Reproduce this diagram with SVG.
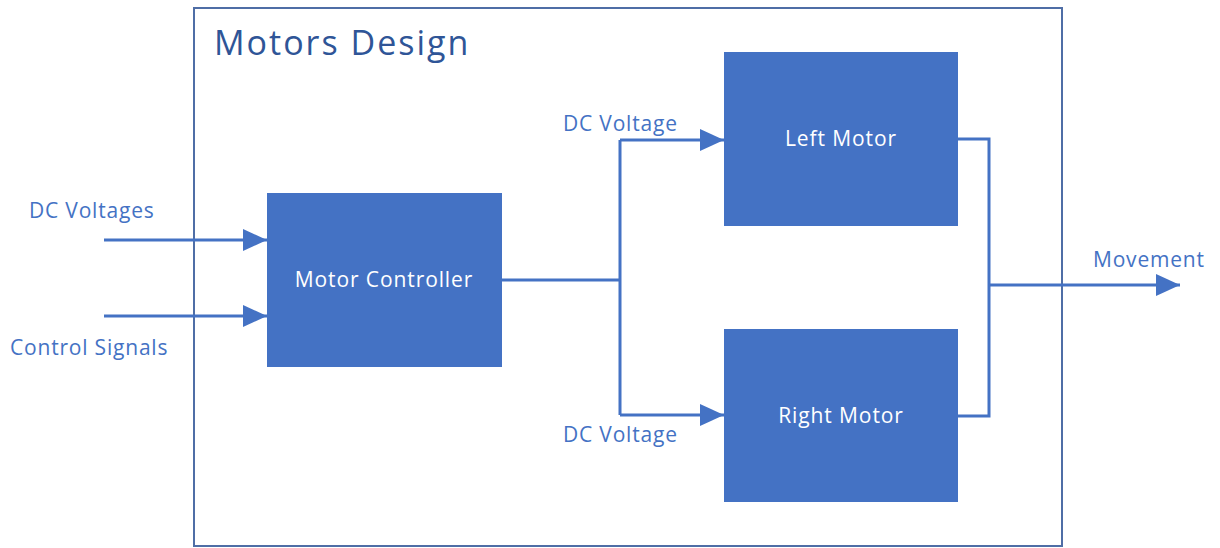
<svg xmlns="http://www.w3.org/2000/svg" width="1220" height="548" viewBox="0 0 1220 548">
<style>
.box{fill:#4472C4;}
.lbl{font-family:"Open Sans","Liberation Sans",sans-serif;font-size:21px;letter-spacing:0.8px;fill:#4472C4;}
.in{font-family:"Open Sans","Liberation Sans",sans-serif;font-size:21px;letter-spacing:0.9px;fill:#ffffff;text-anchor:middle;}
.ln{stroke:#4472C4;stroke-width:3;fill:none;}
</style>
<defs>
<marker id="ah" markerUnits="userSpaceOnUse" markerWidth="26" markerHeight="22" refX="24" refY="11" orient="auto">
<path d="M0,0 L24,11 L0,22 Z" fill="#4472C4"/>
</marker>
</defs>
<rect width="1220" height="548" fill="#ffffff"/>
<g id="frame">
<rect x="194" y="8" width="868" height="538" fill="none" stroke="#4F6EA6" stroke-width="2"/>
<text x="214" y="55" font-family="'Open Sans','Liberation Sans',sans-serif" font-size="34" letter-spacing="2" fill="#2F5597">Motors Design</text>
</g>
<g id="connectors">
<line class="ln" x1="104" y1="240" x2="267" y2="240" marker-end="url(#ah)"/>
<line class="ln" x1="104" y1="316" x2="267" y2="316" marker-end="url(#ah)"/>
<polyline class="ln" points="502,280 620,280"/>
<polyline class="ln" points="620,140 620,415"/>
<line class="ln" x1="620" y1="140" x2="724" y2="140" marker-end="url(#ah)"/>
<line class="ln" x1="620" y1="415" x2="724" y2="415" marker-end="url(#ah)"/>
<polyline class="ln" points="958,139 989,139 989,416 958,416"/>
<line class="ln" x1="989" y1="285" x2="1180" y2="285" marker-end="url(#ah)"/>
<text class="lbl" x="29" y="218">DC Voltages</text>
<text class="lbl" x="10" y="355">Control Signals</text>
<text class="lbl" x="563" y="131">DC Voltage</text>
<text class="lbl" x="563" y="442">DC Voltage</text>
<text class="lbl" x="1093" y="267">Movement</text>
</g>
<g id="controller">
<rect class="box" x="267" y="193" width="235" height="174"/>
<text class="in" x="384" y="287">Motor Controller</text>
</g>
<g id="left-motor">
<rect class="box" x="724" y="52" width="234" height="174"/>
<text class="in" x="841" y="146">Left Motor</text>
</g>
<g id="right-motor">
<rect class="box" x="724" y="329" width="234" height="173"/>
<text class="in" x="841" y="423">Right Motor</text>
</g>
</svg>
